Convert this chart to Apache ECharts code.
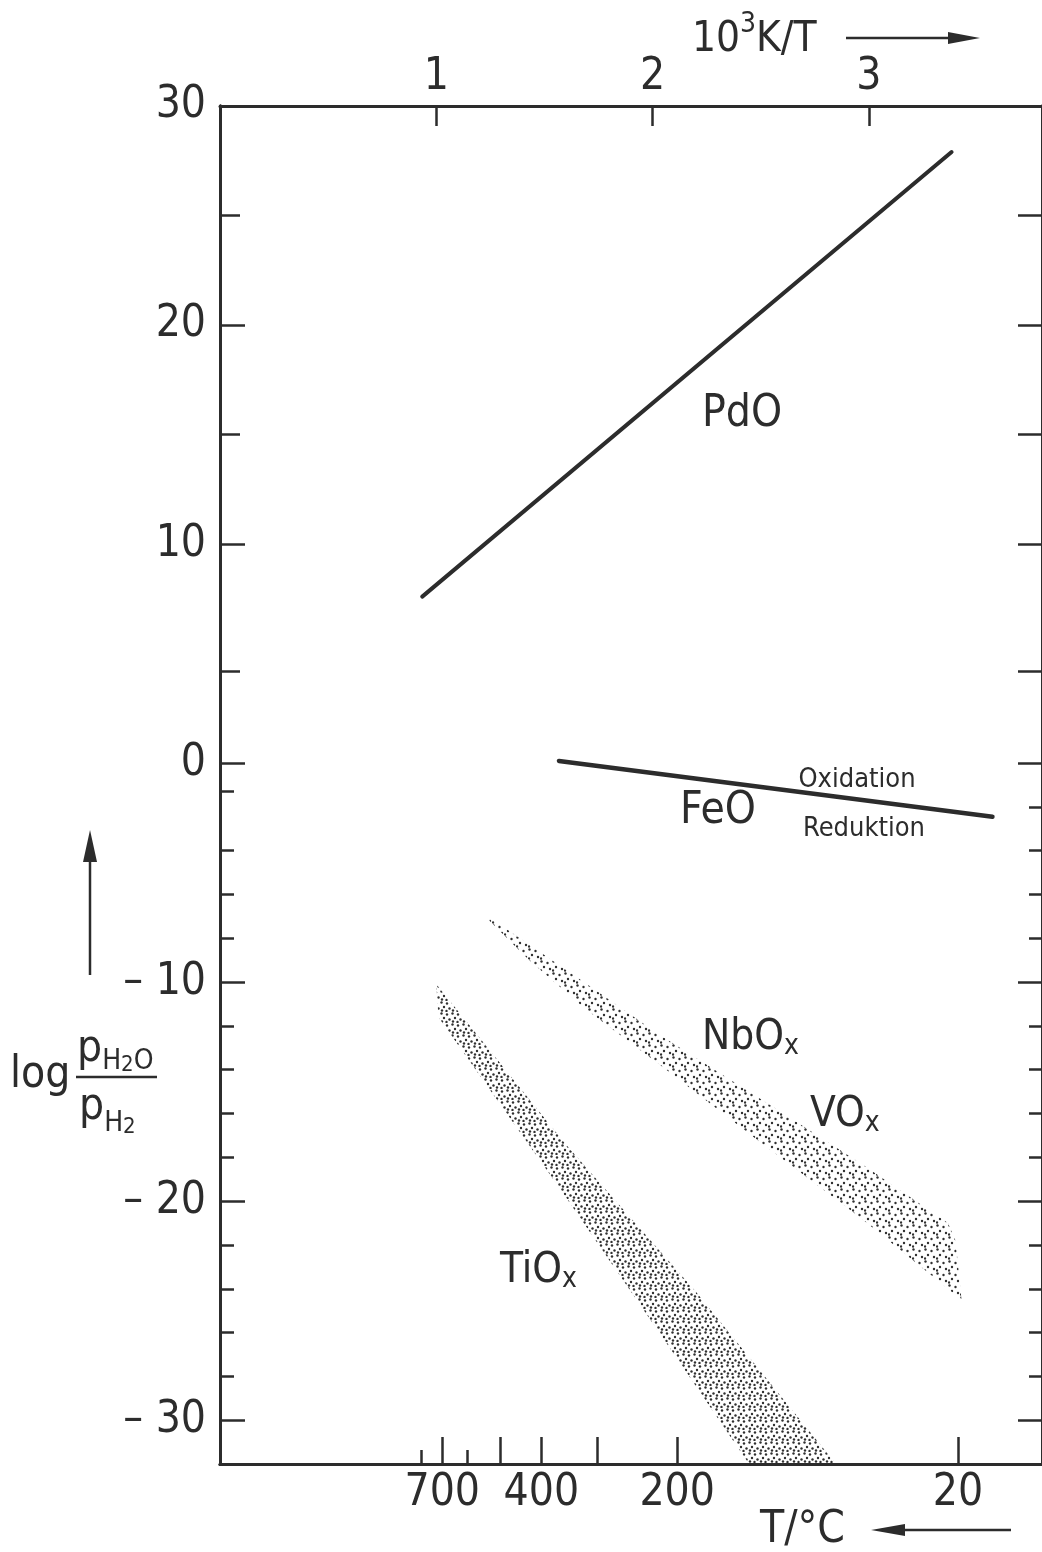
<!DOCTYPE html>
<html>
<head>
<meta charset="utf-8">
<script src="https://cdn.jsdelivr.net/npm/echarts@6/dist/echarts.min.js"></script>
<style>
  html, body { margin: 0; padding: 0; background: #ffffff; }
  #chart { width: 1042px; height: 1552px; }
</style>
</head>
<body>
<div id="chart"></div>
<script>
// Oxide stability: log(pH2O/pH2) against reciprocal temperature 10^3 K/T

// top scale, 10^3 K / T
const reciprocalTicks = [1, 2, 3];
// bottom scale, temperature in degrees Celsius
const celsiusLongTicks = [700, 500, 400, 300, 200, 20];
const celsiusShortTicks = [800, 600];
const celsiusLabels = [700, 400, 200, 20];
// vertical scale
const yLabelled = [30, 20, 10, 0, -10, -20, -30];
const yLeftUpperMinor = [25, 15, 4.2];
const yLeftLowerMinor = [-1.3, -4, -6, -8, -12, -14, -16, -18, -22, -24, -26, -28];
const yRightLong = [30, 25, 20, 15, 10, 4.2, 0, -10, -20, -30];
const yRightShort = [-2, -4, -6, -8, -12, -14, -16, -18, -22, -24, -26, -28];

// equilibrium lines [10^3 K/T, log(pH2O/pH2)]
const pdOLine = [[0.935, 7.6], [3.382, 27.9]];
const feOLine = [[1.567, 0.1], [3.571, -2.45]];

// shaded ranges, outline vertices [10^3 K/T, log(pH2O/pH2)]
const nbOxVOxBand = [
  [1.246, -7.05], [1.69, -10.05], [2.033, -12.41], [2.628, -16.15], [2.975, -18.36],
  [3.365, -21.0], [3.40, -21.8], [3.428, -24.5], [2.958, -20.74], [2.48, -17.17],
  [2.033, -13.77], [1.688, -11.22], [1.43, -9.0], [1.246, -7.2]
];
const tiOxBand = [
  [1.0, -10.1], [1.598, -17.4], [2.197, -24.1], [2.848, -32],
  [2.446, -32], [2.089, -26.84], [1.567, -19.36], [1.01, -11.6]
];

const toReciprocal = c => 1000 / (c + 273.15);
const toCelsius = v => Math.round(1000 / v - 273.15);

const FONT = "'Liberation Sans Narrow','DejaVu Sans Condensed','Liberation Sans',sans-serif";
const INK = '#2c2c2c';

// dotted fill used for the shaded ranges
function stipple(size, dots, r) {
  const c = document.createElement('canvas');
  c.width = size; c.height = size;
  const g = c.getContext('2d');
  g.fillStyle = '#303030';
  dots.forEach(([x, y]) => { g.beginPath(); g.arc(x, y, r, 0, Math.PI * 2); g.fill(); });
  return c;
}
const denseDots = stipple(11, [[1.5, 1.5], [7.0, 2.5], [4.0, 6.0], [9.5, 7.5], [2.0, 9.5], [6.5, 10.0]], 1.2);
const lightDots = stipple(12, [[1.5, 1.5], [7.5, 3.0], [4.0, 7.0], [10.0, 9.0], [1.0, 10.5]], 1.2);

function band(points, tile) {
  return {
    type: 'custom',
    xAxisIndex: 0, yAxisIndex: 0,
    data: points,
    silent: true,
    renderItem: (params, api) => {
      if (params.dataIndex !== 0) return null;
      return {
        type: 'polygon',
        shape: { points: points.map(p => api.coord(p)) },
        style: { fill: { image: tile, repeat: 'repeat' }, stroke: null }
      };
    }
  };
}

function line(points, width) {
  return {
    type: 'line', xAxisIndex: 0, yAxisIndex: 0,
    data: points, showSymbol: false, silent: true,
    lineStyle: { color: INK, width: width, cap: 'round' }
  };
}

const X_MIN = 0, X_MAX = 3.8, Y_MIN = -32, Y_MAX = 30;

function xAxis(pos, tickVals, len, opts) {
  return Object.assign({
    type: 'value', position: pos, min: X_MIN, max: X_MAX,
    axisLine: { show: true, onZero: false, lineStyle: { color: INK, width: 3 } },
    axisTick: { show: true, inside: true, length: len, customValues: tickVals, lineStyle: { color: INK, width: 2.5 } },
    axisLabel: { show: false },
    splitLine: { show: false }
  }, opts || {});
}
function yAxis(pos, tickVals, len, opts) {
  return Object.assign({
    type: 'value', position: pos, min: Y_MIN, max: Y_MAX, offset: 0,
    axisLine: { show: true, onZero: false, lineStyle: { color: INK, width: 3 } },
    axisTick: { show: true, inside: true, length: len, customValues: tickVals, lineStyle: { color: INK, width: 2.5 } },
    axisLabel: { show: false },
    splitLine: { show: false }
  }, opts || {});
}

const labelStyle = { color: INK, fontFamily: FONT, fontSize: 44 };

const option = {
  animation: false,
  backgroundColor: '#ffffff',
  grid: { left: 220, right: -3, top: 106, bottom: 88, containLabel: false },
  xAxis: [
    xAxis('top', reciprocalTicks, 20, {
      axisLabel: Object.assign({ show: true, customValues: reciprocalTicks, margin: 6 }, labelStyle)
    }),
    xAxis('bottom', celsiusLongTicks.map(toReciprocal), 27, {
      axisLabel: Object.assign({ show: true, customValues: celsiusLabels.map(toReciprocal), margin: 8,
        formatter: v => String(toCelsius(v)) }, labelStyle)
    }),
    xAxis('bottom', celsiusShortTicks.map(toReciprocal), 14)
  ],
  yAxis: [
    yAxis('left', yLabelled, 25, {
      axisLabel: Object.assign({ show: true, customValues: yLabelled, margin: 14,
        formatter: v => v < 0 ? '\u2013 ' + Math.abs(v) : String(v) }, labelStyle)
    }),
    yAxis('left', yLeftUpperMinor, 20),
    yAxis('left', yLeftLowerMinor, 14),
    yAxis('right', yRightLong, 24),
    yAxis('right', yRightShort, 13)
  ],
  series: [
    band(tiOxBand, denseDots),
    band(nbOxVOxBand, lightDots),
    line(pdOLine, 4),
    line(feOLine, 4.5)
  ],
  graphic: { elements: [] }
};

// free-standing text and arrows
const g = option.graphic.elements;
const measurer = document.createElement('canvas').getContext('2d');
function text(str, x, y, size, align) {
  g.push({ type: 'text', x: x, y: y, silent: true,
    style: { text: str, font: size + 'px ' + FONT, fill: INK, align: align || 'left', verticalAlign: 'middle' } });
}
// pieces set one after another; each piece: [text, size, vertical shift of its centre]
function run(pieces, x, cy) {
  let cx = x;
  pieces.forEach(([str, size, shift]) => {
    text(str, cx, cy + (shift || 0), size);
    measurer.font = size + 'px ' + FONT;
    cx += measurer.measureText(str).width;
  });
}
function arrow(x1, y1, x2, y2, headLen, headHalf) {
  const dx = x2 - x1, dy = y2 - y1, L = Math.hypot(dx, dy), ux = dx / L, uy = dy / L;
  const bx = x2 - ux * headLen, by = y2 - uy * headLen;
  g.push({ type: 'line', silent: true, shape: { x1: x1, y1: y1, x2: bx, y2: by }, style: { stroke: INK, lineWidth: 2.5 } });
  g.push({ type: 'polygon', silent: true,
    shape: { points: [[x2, y2], [bx - uy * headHalf, by + ux * headHalf], [bx + uy * headHalf, by - ux * headHalf]] },
    style: { fill: INK } });
}

// top axis title: 10^3 K/T ->
run([['10', 42], ['3', 28, -15], ['K/T', 42]], 692, 40);
arrow(846, 38, 980, 38, 32, 6);

// bottom axis title: T/°C <-
run([['T/\u00B0C', 44]], 760, 1531);
arrow(1011, 1530, 871, 1530, 34, 6);

// vertical axis title: log (pH2O / pH2) with upward arrow
arrow(90, 975, 90, 830, 32, 7);
run([['log', 44]], 10, 1076);
run([['p', 44], ['H', 28, 12], ['2', 22, 15], ['O', 28, 12]], 77, 1050);
g.push({ type: 'line', silent: true, shape: { x1: 76, y1: 1077, x2: 157, y2: 1077 }, style: { stroke: INK, lineWidth: 2.5 } });
run([['p', 44], ['H', 28, 16], ['2', 22, 19]], 79, 1108);

// curve names
text('PdO', 742, 415, 44, 'center');
text('FeO', 718, 812, 44, 'center');
text('Oxidation', 857, 780, 27, 'center');
text('Reduktion', 864, 829, 27, 'center');
run([['NbO', 42], ['x', 28, 9]], 702, 1038);
run([['VO', 42], ['x', 28, 9]], 810, 1115);
run([['TiO', 42], ['x', 28, 9]], 500, 1271);

const chart = echarts.init(document.getElementById('chart'), null, { renderer: 'canvas' });
chart.setOption(option);
</script>
</body>
</html>
